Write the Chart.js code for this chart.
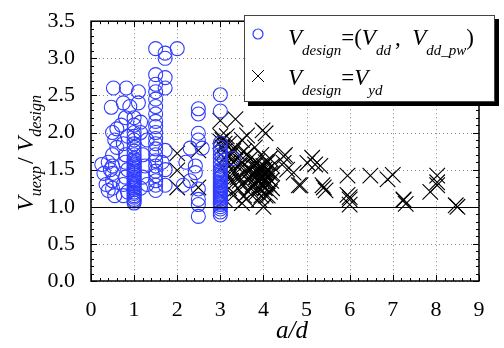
<!DOCTYPE html>
<html>
<head>
<meta charset="utf-8">
<script src="https://cdn.jsdelivr.net/npm/chart.js@4.4.1/dist/chart.umd.min.js"></script>
<style>
  html, body { margin: 0; padding: 0; background: #fff; }
</style>
</head>
<body>
<canvas id="c" width="504" height="348"></canvas>
<script>
// V_design = (V_dd , V_dd_pw)  -> open blue circles
const circlePoints = [
  [0.25,1.57],[0.3,1.45],[0.35,1.3],[0.4,1.6],[0.4,1.22],[0.45,1.5],
  [0.47,2.34],[0.52,2.6],[0.5,2.0],[0.55,1.9],[0.5,1.7],[0.5,1.55],[0.5,1.45],[0.5,1.35],[0.5,1.25],[0.55,1.15],[0.6,1.8],[0.6,2.05],
  [0.82,2.6],[0.75,2.4],[0.7,2.1],[0.8,2.2],[0.85,1.95],[0.75,1.85],[0.8,1.7],[0.8,1.6],[0.85,1.5],[0.8,1.4],[0.75,1.3],[0.85,1.2],[0.75,1.15],[0.9,2.35],
  [1,1.05],[1,1.08],[1,1.1],[1,1.13],[1,1.15],[1,1.18],[1,1.2],[1,1.23],[1,1.25],[1,1.28],[1,1.3],[1,1.33],[1,1.35],[1,1.38],[1,1.4],[1,1.43],
  [1,1.45],[1,1.48],[1,1.5],[1,1.53],[1,1.55],[1,1.58],[1,1.6],[1,1.63],[1,1.65],[1,1.7],[1,1.75],[1,1.8],[1,1.85],[1,1.9],[1,1.95],[1,2.0],[1,2.1],[1,2.2],
  [1.15,2.14],[1.15,2.0],[1.2,1.7],[1.25,1.55],[1.2,1.4],[1.15,1.25],[1.3,1.3],[1.3,1.9],[1.1,2.4],[1.1,2.55],
  [1.5,1.22],[1.5,1.29],[1.5,1.35],[1.5,1.42],[1.5,1.48],[1.5,1.55],[1.5,1.62],[1.5,1.7],[1.5,1.78],[1.5,1.85],[1.5,1.92],[1.5,2.0],[1.5,2.08],[1.5,2.15],[1.5,2.25],[1.5,2.35],[1.5,2.45],[1.5,2.55],[1.5,2.65],[1.5,2.78],[1.5,3.13],
  [1.72,3.07],[1.72,3.0],[1.72,2.74],[1.72,2.6],[1.72,1.76],[1.72,1.5],[1.72,1.29],[1.65,1.6],
  [2.0,3.13],
  [2.14,1.29],[2.3,1.79],[2.42,1.55],[2.42,1.46],[2.49,2.32],[2.49,2.25],[2.49,1.99],[2.49,1.9],[2.58,1.79],[2.49,1.24],[2.49,1.1],[2.49,1.03],[2.49,0.87],[2.2,1.6],[2.3,1.35],
  [3,0.89],[3,0.93],[3,0.97],[3,1.0],[3,1.03],[3,1.05],[3,1.07],[3,1.1],[3,1.12],[3,1.14],[3,1.16],[3,1.18],[3,1.2],[3,1.22],[3,1.24],[3,1.26],[3,1.28],[3,1.3],
  [3,1.33],[3,1.35],[3,1.38],[3,1.4],[3,1.43],[3,1.45],[3,1.48],[3,1.5],[3,1.55],[3,1.6],[3,1.65],[3,1.7],[3,1.75],[3,1.8],[3,1.86],[3,2.29],[3,2.51],
  [3.3,1.65]
];

// V_design = V_yd  -> black crosses
const crossPoints = [
  [2.0,1.72],[2.0,1.49],[2.0,1.26],[2.49,1.76],[2.49,1.26],
  [3.0,2.16],[3.0,1.95],[3.0,1.88],[3.05,1.9],[3.1,1.75],[3.15,1.95],[3.2,1.85],[3.2,1.6],[3.25,1.7],[3.3,1.5],[3.35,2.18],[3.35,1.8],
  [3.4,1.65],[3.4,1.4],[3.45,1.55],[3.5,1.9],[3.5,1.3],[3.55,1.75],[3.6,1.5],[3.62,1.96],[3.65,1.2],[3.7,1.65],[3.7,1.4],[3.75,1.3],
  [3.75,1.55],[3.8,1.8],[3.8,1.45],[3.85,1.35],[3.85,1.6],[3.9,1.5],[3.9,1.25],[3.95,1.4],[3.95,1.7],[3.98,2.03],[4.0,1.55],[4.0,1.45],
  [4.0,1.35],[4.0,1.0],[4.05,1.99],[4.05,1.6],[4.05,1.3],[4.1,1.5],[4.1,1.4],[4.15,1.2],[4.15,1.65],[4.2,1.45],[4.2,1.55],
  [3.1,1.1],[3.2,1.25],[3.3,1.15],[3.6,1.1],[3.9,1.1],[4.1,1.15],[3.5,1.05],[3.15,1.45],[3.25,1.35],[3.05,1.55],[3.1,1.65],
  [3.05,1.8],[3.1,1.85],[3.15,1.7],[3.2,1.4],[3.3,1.75],[3.3,1.6],[3.35,1.45],[3.45,1.7],[3.45,1.35],[3.5,1.6],[3.55,1.45],
  [3.6,1.7],[3.65,1.35],[3.7,1.5],[3.75,1.45],[3.8,1.3],[3.8,1.55],[3.82,1.4],[3.85,1.5],[3.88,1.45],[3.9,1.35],[3.92,1.55],
  [3.95,1.3],[3.97,1.5],[4.0,1.4],[4.02,1.5],[4.03,1.25],[4.05,1.45],[4.08,1.35],[4.1,1.6],[4.12,1.3],[4.15,1.45],[4.18,1.35],
  [4.2,1.25],[3.85,1.2],[3.95,1.15],[4.05,1.15],[3.7,1.25],[3.4,1.25],[3.55,1.15],
  [4.47,1.68],[4.5,1.7],[4.55,1.5],[4.47,1.59],[4.7,1.46],[4.82,1.29],[4.86,1.29],[5.02,1.59],[5.13,1.66],[5.2,1.57],[5.32,1.55],
  [5.37,1.29],[5.44,1.22],[5.4,1.26],[5.95,1.42],[5.95,1.16],[6.0,1.13],[6.0,1.03],[6.0,1.1],[6.48,1.42],[6.88,1.37],[7.0,1.43],
  [7.25,1.09],[7.3,1.04],[7.25,1.1],[7.87,1.2],[8.03,1.42],[8.03,1.29],[8.03,1.33],[8.46,1.02],[8.5,1.0]
];

const xTicks = [0, 1, 2, 3, 4, 5, 6, 7, 8, 9];
const yTicks = [0, 0.5, 1, 1.5, 2, 2.5, 3, 3.5];
const refLine = 1.0;

const SERIF = "'Liberation Serif', 'DejaVu Serif', serif";
const BLUE = '#2f3cff';

// draw a run of text with subscript parts, left to right; returns end x
function drawRich(ctx, parts, x, y, big, small, drop) {
  parts.forEach(p => {
    ctx.font = (p.it === false ? '' : 'italic ') + (p.sub ? small : big) + 'px ' + SERIF;
    ctx.fillText(p.t, x, p.sub ? y + big * drop : y);
    x += ctx.measureText(p.t).width + (p.gap || 0);
  });
  return x;
}
function richWidth(ctx, parts, big, small) {
  let w = 0;
  parts.forEach(p => {
    ctx.font = (p.it === false ? '' : 'italic ') + (p.sub ? small : big) + 'px ' + SERIF;
    w += ctx.measureText(p.t).width + (p.gap || 0);
  });
  return w;
}

const framePlugin = {
  id: 'frame',
  beforeDatasetsDraw(chart) {
    // dotted grid at the major ticks
    const { ctx, chartArea: a, scales: { x, y } } = chart;
    ctx.save();
    ctx.strokeStyle = '#888';
    ctx.lineWidth = 1;
    ctx.setLineDash([1, 3]);
    ctx.beginPath();
    xTicks.forEach(v => {
      const px = Math.round(x.getPixelForValue(v)) + 0.5;
      ctx.moveTo(px, a.top); ctx.lineTo(px, a.bottom);
    });
    yTicks.forEach(v => {
      const py = Math.round(y.getPixelForValue(v)) + 0.5;
      ctx.moveTo(a.left, py); ctx.lineTo(a.right, py);
    });
    ctx.stroke();
    ctx.restore();
  },
  afterDatasetsDraw(chart) {
    const { ctx, chartArea: a, scales: { x, y } } = chart;
    ctx.save();
    // reference line at 1.0
    ctx.strokeStyle = '#000';
    ctx.lineWidth = 1;
    ctx.beginPath();
    const yr = Math.round(y.getPixelForValue(refLine)) + 0.5;
    ctx.moveTo(a.left, yr); ctx.lineTo(a.right, yr);
    ctx.stroke();

    // inward ticks, major and minor
    ctx.beginPath();
    for (let i = 0; i <= 45; i++) {
      const px = Math.round(x.getPixelForValue(i * 0.2)) + 0.5;
      const len = i % 5 === 0 ? 6 : 3;
      ctx.moveTo(px, a.bottom); ctx.lineTo(px, a.bottom - len);
      ctx.moveTo(px, a.top); ctx.lineTo(px, a.top + len);
    }
    for (let i = 0; i <= 35; i++) {
      const py = Math.round(y.getPixelForValue(i * 0.1)) + 0.5;
      const len = i % 5 === 0 ? 6 : 3;
      ctx.moveTo(a.left, py); ctx.lineTo(a.left + len, py);
      ctx.moveTo(a.right, py); ctx.lineTo(a.right - len, py);
    }
    ctx.stroke();

    ctx.lineWidth = 1.5;
    ctx.strokeRect(a.left, a.top, a.right - a.left, a.bottom - a.top);
    ctx.restore();
  },
  afterDraw(chart) {
    const { ctx } = chart;
    ctx.save();
    ctx.fillStyle = '#000';
    ctx.textBaseline = 'alphabetic';

    // x title
    ctx.font = 'italic 25px ' + SERIF;
    ctx.textAlign = 'center';
    ctx.fillText('a/d', 292, 338);

    // y title, rotated
    ctx.textAlign = 'left';
    const yParts = [
      { t: 'V' }, { t: 'uexp', sub: true, gap: 2 }, { t: '/ ', it: false },
      { t: 'V' }, { t: 'design', sub: true }
    ];
    const yw = richWidth(ctx, yParts, 24, 16);
    ctx.save();
    ctx.translate(33, 153);
    ctx.rotate(-Math.PI / 2);
    drawRich(ctx, yParts, -yw / 2, 0, 24, 16, 0.33);
    ctx.restore();

    // legend box with shadow
    const lx = 244, ly = 15, lw = 251, lh = 87;
    ctx.fillStyle = '#000';
    ctx.fillRect(lx + 4, ly + 4, lw, lh);
    ctx.fillStyle = '#fff';
    ctx.fillRect(lx, ly, lw, lh);
    ctx.strokeStyle = '#444';
    ctx.lineWidth = 1;
    ctx.strokeRect(lx + 0.5, ly + 0.5, lw - 1, lh - 1);

    // legend markers
    ctx.strokeStyle = BLUE;
    ctx.lineWidth = 1.2;
    ctx.beginPath();
    ctx.arc(258, 34, 5, 0, Math.PI * 2);
    ctx.stroke();
    ctx.strokeStyle = '#000';
    ctx.lineWidth = 1;
    ctx.beginPath();
    ctx.moveTo(252, 70); ctx.lineTo(264, 82);
    ctx.moveTo(264, 70); ctx.lineTo(252, 82);
    ctx.stroke();

    // legend labels
    ctx.fillStyle = '#000';
    drawRich(ctx, [
      { t: 'V' }, { t: 'design', sub: true }, { t: '=(', it: false },
      { t: 'V' }, { t: 'dd', sub: true, gap: 4 }, { t: ',  ', it: false },
      { t: 'V' }, { t: 'dd_pw', sub: true }, { t: ')', it: false }
    ], 288, 45, 23, 15, 0.45);
    drawRich(ctx, [
      { t: 'V' }, { t: 'design', sub: true }, { t: '=', it: false },
      { t: 'V' }, { t: 'yd', sub: true }
    ], 288, 85, 23, 15, 0.45);
    ctx.restore();
  }
};

const toXY = p => ({ x: p[0], y: p[1] });

new Chart(document.getElementById('c'), {
  type: 'scatter',
  data: {
    datasets: [
      {
        label: 'V_design=(V_dd , V_dd_pw)',
        data: circlePoints.map(toXY),
        pointStyle: 'circle',
        pointRadius: 7,
        pointBorderWidth: 1.1,
        pointBorderColor: BLUE,
        pointBackgroundColor: 'rgba(0,0,0,0)'
      },
      {
        label: 'V_design=V_yd',
        data: crossPoints.map(toXY),
        pointStyle: 'crossRot',
        pointRadius: 11,
        pointBorderWidth: 1.1,
        pointBorderColor: '#000'
      }
    ]
  },
  options: {
    responsive: false,
    animation: false,
    devicePixelRatio: 1,
    layout: { padding: { top: 15, right: 25, left: 0, bottom: 0 } },
    plugins: { legend: { display: false }, tooltip: { enabled: false } },
    scales: {
      x: {
        type: 'linear', min: 0, max: 9,
        afterFit: s => { s.height = 67; },
        afterBuildTicks: s => { s.ticks = xTicks.map(v => ({ value: v })); },
        ticks: { color: '#000', padding: 8, font: { family: SERIF, size: 22 }, callback: v => String(v) },
        grid: { display: false },
        border: { display: false }
      },
      y: {
        type: 'linear', min: 0, max: 3.5,
        afterFit: s => { s.width = 91; },
        afterBuildTicks: s => { s.ticks = yTicks.map(v => ({ value: v })); },
        ticks: { color: '#000', padding: 8, font: { family: SERIF, size: 22 }, callback: v => v.toFixed(1) },
        grid: { display: false },
        border: { display: false }
      }
    }
  },
  plugins: [framePlugin]
});
</script>
</body>
</html>
